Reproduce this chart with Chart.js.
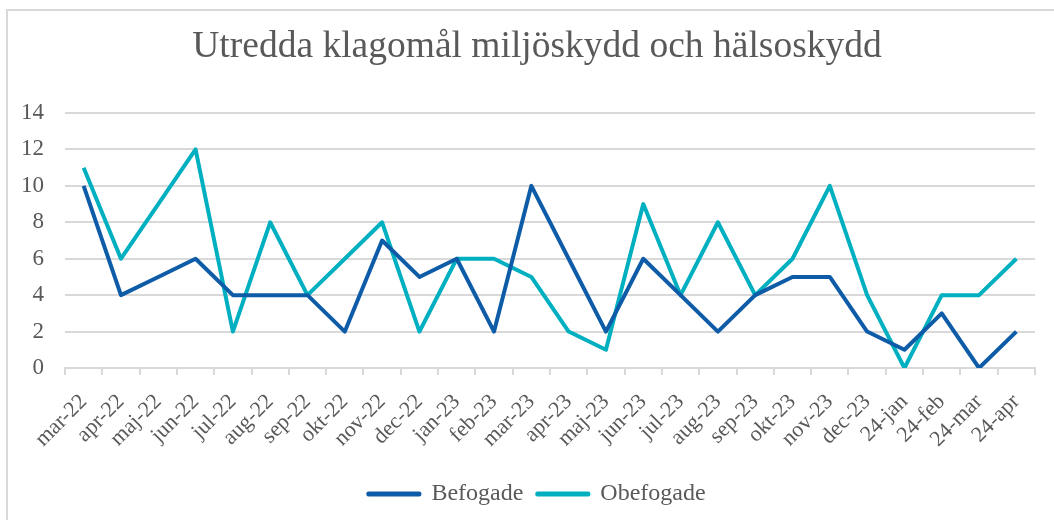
<!DOCTYPE html>
<html>
<head>
<meta charset="utf-8">
<script src="https://cdn.jsdelivr.net/npm/chart.js@4"></script>
<style>
  html, body { margin: 0; padding: 0; background: #fff; overflow: hidden; }
  #wrap { position: relative; width: 1054px; height: 520px; }
  #frame { position: absolute; left: 6px; top: 9px; width: 1100px; height: 600px;
           border: 2px solid #d9d9d9; box-sizing: border-box; }
  canvas { position: absolute; left: 0; top: 0; }
</style>
</head>
<body>
<div id="wrap">
  <div id="frame"></div>
  <canvas id="line-chart" width="1054" height="520"></canvas>
</div>
<script>
// Månader
const months = ["mar-22", "apr-22", "maj-22", "jun-22", "jul-22", "aug-22", "sep-22", "okt-22", "nov-22", "dec-22",
    "jan-23", "feb-23", "mar-23", "apr-23", "maj-23", "jun-23", "jul-23", "aug-23", "sep-23", "okt-23", "nov-23", "dec-23",
    "24-jan", "24-feb", "24-mar", "24-apr"];
const befogade = [10, 4, 5, 6, 4, 4, 4, 2, 7, 5, 6, 2, 10, 6, 2, 6, 4, 2, 4, 5, 5, 2, 1, 3, 0, 2];
const obefogade = [11, 6, 9, 12, 2, 8, 4, 6, 8, 2, 6, 6, 5, 2, 1, 9, 4, 8, 4, 6, 10, 4, 0, 4, 4, 6];
const yTicks = [0, 2, 4, 6, 8, 10, 12, 14];

const serif = "'Liberation Serif', 'Times New Roman', serif";
const textGray = "#595959";

var ctx = document.getElementById("line-chart").getContext("2d");
var myChart = new Chart(ctx, {
    type: "line",
    data: {
        labels: months,
        datasets: [{
            label: "Befogade",
            data: befogade,
            borderColor: "#0E5CA8",
            backgroundColor: "#0E5CA8",
            borderWidth: 4,
            borderJoinStyle: "round",
            pointRadius: 0,
            tension: 0
        }, {
            label: "Obefogade",
            data: obefogade,
            borderColor: "#00AFC0",
            backgroundColor: "#00AFC0",
            borderWidth: 4,
            borderJoinStyle: "round",
            pointRadius: 0,
            tension: 0
        }]
    },
    options: {
        responsive: false,
        animation: false,
        layout: { padding: { left: 20, right: 0, top: 8, bottom: 4 } },
        plugins: {
            title: {
                display: true,
                text: "Utredda klagomål miljöskydd och hälsoskydd",
                color: textGray,
                font: { family: serif, size: 37.5, weight: "normal" },
                padding: { top: 17, bottom: 43 }
            },
            legend: {
                position: "bottom",
                labels: {
                    color: textGray,
                    font: { family: serif, size: 24 },
                    boxWidth: 51,
                    boxHeight: 1,
                    padding: 14
                }
            },
            tooltip: { enabled: false }
        },
        scales: {
            x: {
                offset: true,
                grid: {
                    offset: true,
                    drawOnChartArea: false,
                    drawTicks: true,
                    tickLength: 7,
                    color: "#d9d9d9",
                    lineWidth: 2
                },
                border: { color: "#d9d9d9", width: 2 },
                ticks: {
                    color: textGray,
                    font: { family: serif, size: 22 },
                    maxRotation: 45,
                    minRotation: 45,
                    autoSkip: false,
                    padding: 14
                },
                afterFit: function (scale) {
                    scale.height = 100;
                    scale.paddingLeft = 0;
                    scale.paddingRight = 19;
                }
            },
            y: {
                min: 0,
                max: 14,
                afterBuildTicks: function (axis) {
                    axis.ticks = yTicks.map(function (v) { return { value: v }; });
                },
                afterFit: function (scale) {
                    scale.width = 45;
                },
                grid: { color: "#d9d9d9", lineWidth: 2, drawTicks: false },
                border: { display: false },
                ticks: {
                    color: textGray,
                    font: { family: serif, size: 23 },
                    padding: 21
                }
            }
        }
    }
});
</script>
</body>
</html>
